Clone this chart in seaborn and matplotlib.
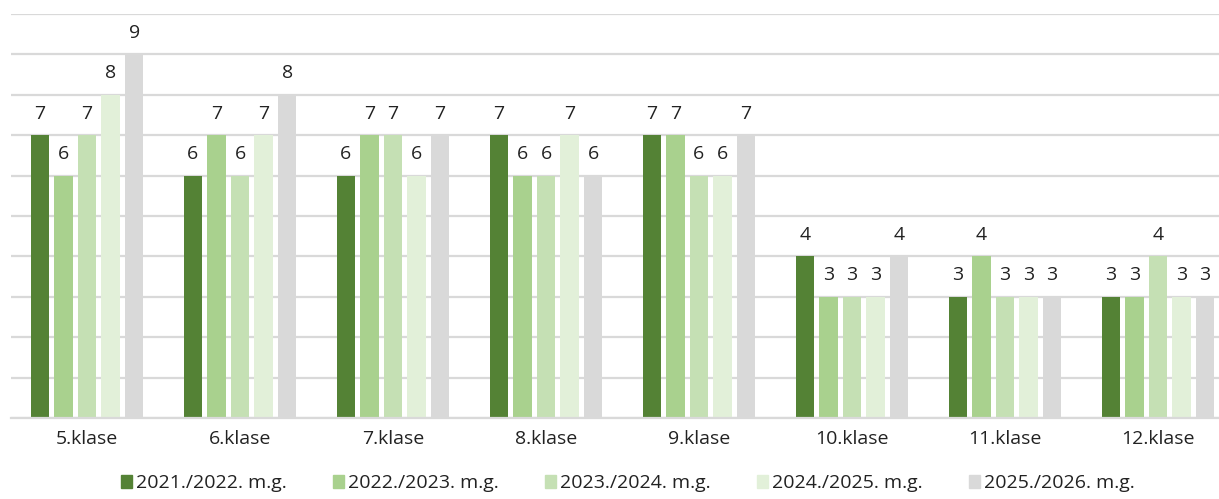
import pandas as pd
import matplotlib.pyplot as plt
import seaborn as sns

classes = ["5.klase", "6.klase", "7.klase", "8.klase", "9.klase",
           "10.klase", "11.klase", "12.klase"]
years = ["2021./2022. m.g.", "2022./2023. m.g.", "2023./2024. m.g.",
         "2024./2025. m.g.", "2025./2026. m.g."]
y2021 = [7, 6, 6, 7, 7, 4, 3, 3]
y2022 = [6, 7, 7, 6, 7, 3, 4, 3]
y2023 = [7, 6, 7, 6, 6, 3, 3, 4]
y2024 = [8, 7, 6, 7, 6, 3, 3, 3]
y2025 = [9, 8, 7, 6, 7, 4, 3, 3]
colors = ["#548235", "#A9D18E", "#C5E0B4", "#E2F0D9", "#D9D9D9"]

rows = []
for year, vals in zip(years, [y2021, y2022, y2023, y2024, y2025]):
    for cls, v in zip(classes, vals):
        rows.append({"klase": cls, "gads": year, "skaits": v})
df = pd.DataFrame(rows)

sns.set_style("white")
plt.rcParams["font.family"] = ["Open Sans", "DejaVu Sans"]

fig = plt.figure(figsize=(12.19, 4.99), dpi=100)
ax = fig.add_axes([10.5 / 1219, 81 / 499, 1224 / 1219, 404 / 499])

sns.barplot(data=df, x="klase", y="skaits", hue="gads", palette=colors,
            width=0.77, gap=0.23, saturation=1, linewidth=0,
            ax=ax, legend=False)

ax.set_xlim(-0.5, 7.5)
ax.set_ylim(0, 10)
ax.set_yticks(range(0, 11))
ax.set_yticklabels([])
ax.tick_params(axis="y", length=0)
ax.tick_params(axis="x", length=0, labelsize=14, pad=9, colors="#222222")
ax.grid(axis="y", color="#D9D9D9", linewidth=1.6)
ax.set_axisbelow(True)
for s in ["top", "right", "left"]:
    ax.spines[s].set_visible(False)
ax.spines["bottom"].set_color("#D9D9D9")
ax.spines["bottom"].set_linewidth(1.6)
ax.set_xlabel("")
ax.set_ylabel("")

for container in ax.containers:
    labels = ax.bar_label(container, fmt="%d", padding=9, fontsize=14,
                          color="#222222")
    for t in labels:
        t.set_bbox(dict(facecolor="white", edgecolor="none", pad=3))

handles = [plt.Rectangle((0, 0), 1, 1, color=c) for c in colors]
fig.legend(handles, years, loc="lower center", ncol=5, frameon=False,
           bbox_to_anchor=(0.515, -0.022), fontsize=14, handlelength=0.6,
           handleheight=0.6, handletextpad=0.2, columnspacing=2.35,
           labelcolor="#222222")

fig.savefig("out.png", dpi=100)
